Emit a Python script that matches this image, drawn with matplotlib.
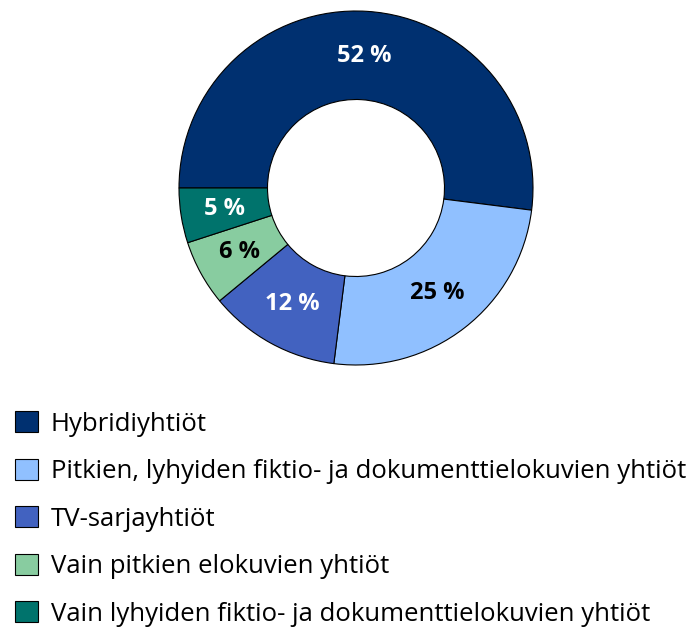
import numpy as np
import matplotlib
matplotlib.use("Agg")
import matplotlib.pyplot as plt

plt.rcParams['font.family'] = ['Open Sans', 'DejaVu Sans']

labels = ["Hybridiyhtiöt",
          "Pitkien, lyhyiden fiktio- ja dokumenttielokuvien yhtiöt",
          "TV-sarjayhtiöt",
          "Vain pitkien elokuvien yhtiöt",
          "Vain lyhyiden fiktio- ja dokumenttielokuvien yhtiöt"]
values = [52, 25, 12, 6, 5]
colors = ["#003070", "#90c0ff", "#4262c0", "#88cca0", "#00736c"]
text_colors = ["white", "black", "white", "black", "white"]

fig = plt.figure(figsize=(6.89, 6.28), dpi=100)
W, H = 689, 628
cx, cy, r = 356, 188, 177
ax = fig.add_axes([(cx - r) / W, (H - cy - r) / H, 2 * r / W, 2 * r / H])

wedges, texts, autotexts = ax.pie(values, colors=colors, startangle=180, counterclock=False,
                                  radius=1, autopct=lambda p: "%d %%" % round(p),
                                  pctdistance=0.75,
                                  wedgeprops=dict(width=0.5, edgecolor="black", linewidth=0.8),
                                  textprops=dict(fontsize=17, fontweight="bold"))
for t, c in zip(autotexts, text_colors):
    t.set_color(c)
ax.set_xlim(-1.0, 1.0)
ax.set_ylim(-1.0, 1.0)

leg = fig.legend(wedges, labels, loc="upper left", bbox_to_anchor=(5 / W, 1 - 401 / H),
                 frameon=False, fontsize=18.5, handlelength=0.88, handleheight=0.88,
                 handletextpad=0.5, labelspacing=0.86, borderaxespad=0)

fig.savefig("out.png", dpi=100)
